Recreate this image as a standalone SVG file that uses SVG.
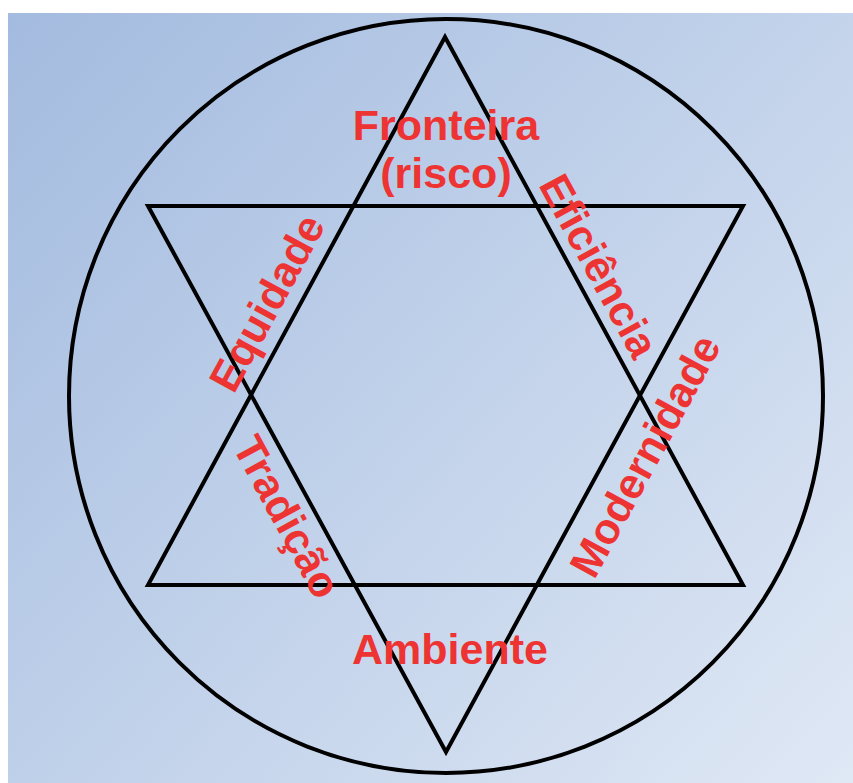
<svg xmlns="http://www.w3.org/2000/svg" width="853" height="783" viewBox="0 0 853 783">
<defs>
<linearGradient id="bg" x1="8" y1="13" x2="853" y2="783" gradientUnits="userSpaceOnUse">
<stop offset="0" stop-color="#a3bbdf"/>
<stop offset="1" stop-color="#dfe8f5"/>
</linearGradient>
<style>
.ln{fill:none;stroke:#000;stroke-width:4;stroke-linejoin:miter}
.lb{font-family:"Liberation Sans",Arial,sans-serif;font-weight:bold;font-size:43px;fill:#ee3333;text-anchor:middle}
</style>
</defs>
<rect x="0" y="0" width="853" height="783" fill="#fff"/>
<rect x="8" y="13" width="845" height="770" fill="url(#bg)"/>
<g id="connectors">
<circle class="ln" cx="446" cy="396" r="377"/>
<polygon id="triangle-up" class="ln" points="445,37 743,585 148,585"/>
<polygon id="triangle-down" class="ln" points="148,206 743,206 446,752"/>
</g>
<g id="fronteira"><text class="lb" x="446" y="140">Fronteira</text><text class="lb" x="446" y="188">(risco)</text></g>
<g id="ambiente"><text class="lb" x="450" y="664">Ambiente</text></g>
<g id="equidade"><text class="lb" transform="translate(280,310) rotate(-61.5)">Equidade</text></g>
<g id="eficiencia"><text class="lb" transform="translate(586,273) rotate(61.5)">Eficiência</text></g>
<g id="modernidade"><text class="lb" transform="translate(658,463) rotate(-61.5)">Modernidade</text></g>
<g id="tradicao"><text class="lb" transform="translate(274,524) rotate(61.5)">Tradição</text></g>
</svg>
